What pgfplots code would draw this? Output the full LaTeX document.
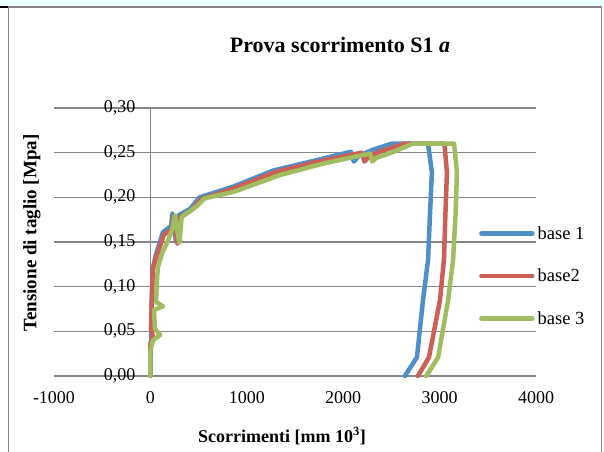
\documentclass[border=0pt]{standalone}
\usepackage{fontspec}
\setmainfont{Liberation Serif}
\usepackage{pgfplots}
\pgfplotsset{compat=1.18}
\definecolor{gridc}{RGB}{134,134,134}
\definecolor{sone}{RGB}{79,143,200}
\definecolor{stwo}{RGB}{204,96,86}
\definecolor{sthree}{RGB}{160,190,96}
\definecolor{band}{RGB}{235,255,255}

\begin{document}
\begin{tikzpicture}[x=1pt,y=1pt]
\useasboundingbox (0,0) rectangle (604,451);
\fill[band] (0,445) rectangle (604,451);
\draw[line width=2pt] (0,444) -- (9,444);
\draw[gridc, line width=1.5pt] (8.5,-2) -- (8.5,444) -- (601.5,444) -- (601.5,-2);

\begin{axis}[
  at={(54pt,75pt)}, anchor=south west,
  scale only axis, width=482pt, height=268pt,
  xmin=-1000, xmax=4000, ymin=0, ymax=0.3,
  axis line style={draw=none},
  xtick={-1000,0,1000,2000,3000,4000},
  xticklabels={-1000,0,1000,2000,3000,4000},
  ytick={0,0.05,0.1,0.15,0.2,0.25,0.3},
  yticklabels={{0,00},{0,05},{0,10},{0,15},{0,20},{0,25},{0,30}},
  major tick length=0pt,
  ymajorgrids, grid style={gridc, line width=1.5pt},
  tick label style={font=\fontsize{18}{21}\selectfont},
  xticklabel style={yshift=-12pt},
  yticklabel style={xshift=85pt},
  clip=false,
  legend style={at={(0.8817,0.373)}, anchor=west, draw=none, fill=none,
    font=\fontsize{18.5}{21}\selectfont, inner sep=0pt, row sep=26pt,
    column sep=2pt, nodes={inner sep=1pt}},
  legend cell align=left,
  legend image code/.code={\draw[#1, line cap=round] (0pt,0pt) -- (51pt,0pt);},
  every axis plot/.append style={line width=4.5pt, line join=round, line cap=round},
]
\draw[gridc, line width=1.5pt] (axis cs:0,0) -- (axis cs:0,0.3);

\addplot[sone] coordinates {
(0,0) (3,0.02) (8,0.05) (15,0.09) (25,0.12) (55,0.135) (130,0.161) (215,0.168)
(228,0.182) (265,0.150) (295,0.180) (410,0.187) (510,0.200) (860,0.212)
(1275,0.230) (1700,0.241) (2080,0.251) (2110,0.240) (2160,0.246) (2300,0.253)
(2500,0.260) (2880,0.260) (2920,0.228) (2900,0.180) (2880,0.130) (2828,0.085)
(2765,0.021) (2640,0)
};
\addplot[stwo] coordinates {
(0,0) (0,0.035) (25,0.045) (8,0.052) (15,0.09) (25,0.12) (60,0.133) (140,0.158)
(225,0.165) (238,0.179) (280,0.148) (310,0.178) (420,0.185) (525,0.198)
(870,0.210) (1290,0.228) (1700,0.239) (2190,0.250) (2220,0.240) (2270,0.246)
(2400,0.252) (2640,0.260) (3050,0.260) (3076,0.228) (3060,0.180) (3045,0.130)
(3004,0.085) (2890,0.021) (2775,0)
};
\addplot[sthree] coordinates {
(0,0) (0,0.029) (28,0.040) (100,0.046) (47,0.053) (37,0.074) (130,0.078)
(58,0.083) (68,0.107) (78,0.122) (120,0.137) (172,0.149) (224,0.163)
(255,0.180) (300,0.149) (325,0.178) (480,0.190) (565,0.199) (860,0.206)
(1345,0.225) (1800,0.238) (2280,0.249) (2300,0.240) (2340,0.244) (2500,0.250)
(2720,0.260) (3150,0.260) (3180,0.228) (3165,0.180) (3140,0.130) (3088,0.085)
(2985,0.021) (2860,0)
};
\legend{base 1, base2, base 3}
\end{axis}

\node[font=\fontsize{22}{26}\selectfont\bfseries] at (340,406) {Prova scorrimento S1 \textit{a}};
\node[font=\fontsize{19}{22}\selectfont\bfseries, rotate=90] at (32,218) {Tensione di taglio [Mpa]};
\node[font=\fontsize{18}{22}\selectfont\bfseries] at (282,15) {Scorrimenti [mm 10\textsuperscript{3}]};
\end{tikzpicture}
\end{document}
